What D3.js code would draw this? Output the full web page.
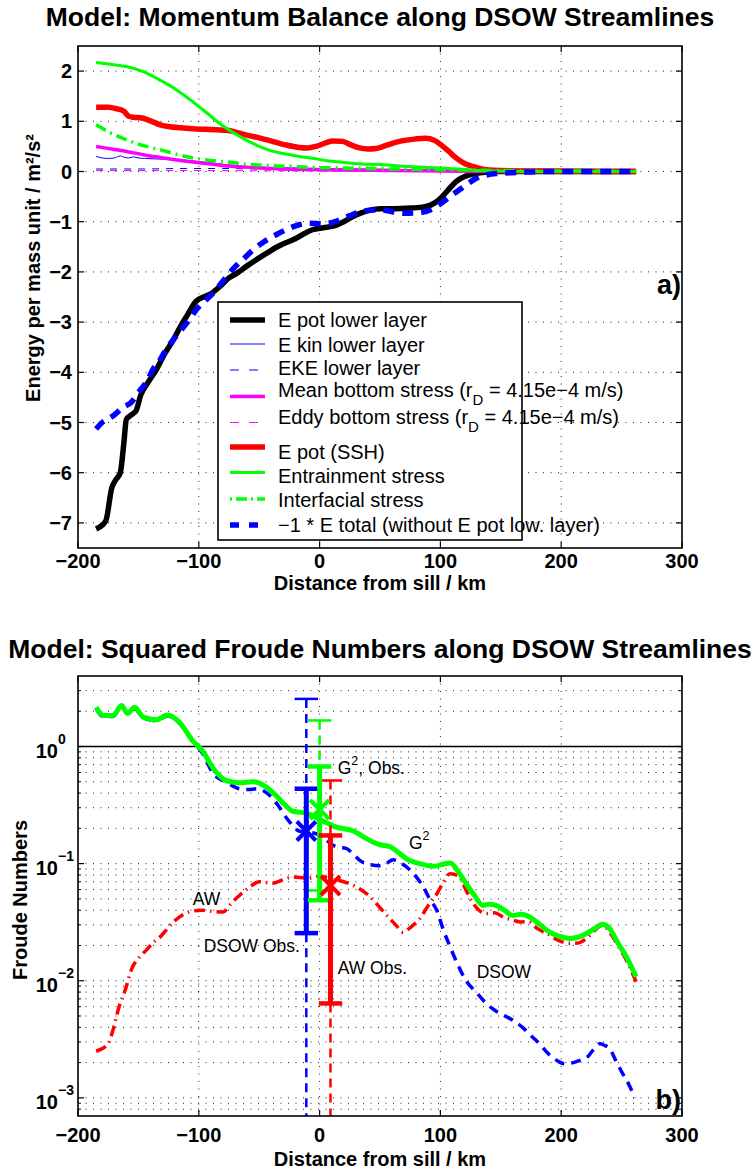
<!DOCTYPE html>
<html><head><meta charset="utf-8">
<script src="https://cdn.jsdelivr.net/npm/d3@7"></script>
<style>
body{margin:0;background:#fff;}
svg{display:block;font-family:"Liberation Sans",Arial,Helvetica,sans-serif;}
</style></head><body>
<svg id="c" width="756" height="1171"></svg>
<script>
// ---------------- DATA: panel a) ----------------
const xTicks = [-200, -100, 0, 100, 200, 300];
const yTicksA = [-7, -6, -5, -4, -3, -2, -1, 0, 1, 2];

const ePotLowerKm = [-185,-182,-177,-172,-169,-165,-162,-160,-156,-152,-148,-142,-135,-128,-121,-115,-110,-102,-96,-91,-83,-75,-68,-60,-50,-42,-35,-28,-22,-15,-6,3,11,20,28,35,42,50,60,72,85,92,99,106,113,120,127,135,145,160,200,262];
const ePotLower   = [-7.12,-7.08,-6.96,-6.3,-6.15,-6.0,-5.4,-4.94,-4.85,-4.77,-4.45,-4.2,-3.94,-3.62,-3.35,-3.08,-2.88,-2.58,-2.5,-2.45,-2.3,-2.12,-2.02,-1.88,-1.72,-1.6,-1.5,-1.42,-1.36,-1.27,-1.16,-1.12,-1.09,-1.0,-0.89,-0.82,-0.77,-0.74,-0.74,-0.73,-0.71,-0.67,-0.56,-0.38,-0.2,-0.1,-0.05,-0.02,0,0,0,0];

const eKinKm = [-185,-180,-175,-170,-165,-161,-158,-154,-150,-145,-135,-120,-105,-90,-75,-60,-40,-20,0,30,60,100,140,180,262];
const eKin   = [0.3,0.27,0.26,0.27,0.31,0.28,0.27,0.29,0.27,0.26,0.25,0.24,0.21,0.17,0.13,0.1,0.08,0.07,0.06,0.05,0.04,0.03,0.01,0,0];

const ekeKm = [-185,-150,-110,-80,-50,0,50,100,150,262];
const eke   = [0.05,0.05,0.06,0.06,0.05,0.04,0.03,0.02,0.01,0];

const meanStressKm = [-185,-170,-160,-145,-132,-118,-105,-90,-77,-63,-50,-30,-10,20,60,100,150,262];
const meanStress   = [0.5,0.44,0.4,0.33,0.28,0.23,0.19,0.15,0.11,0.09,0.07,0.05,0.04,0.03,0.02,0.01,0,0];

const eddyStressKm = [-185,-100,0,100,262];
const eddyStress   = [0.02,0.02,0.01,0.01,0];

const ePotSshKm = [-185,-175,-168,-162,-158,-154,-148,-140,-132,-124,-115,-105,-95,-85,-77,-70,-61,-50,-39,-28,-17,-10,-3,5,11,19,26,33,40,47,55,66,77,88,95,101,107,113,120,127,134,141,150,180,262];
const ePotSsh   = [1.28,1.28,1.25,1.2,1.1,1.08,1.07,1.01,0.93,0.89,0.87,0.85,0.84,0.83,0.82,0.79,0.73,0.67,0.6,0.53,0.48,0.47,0.5,0.57,0.61,0.6,0.53,0.47,0.45,0.46,0.52,0.6,0.64,0.66,0.62,0.52,0.4,0.27,0.16,0.1,0.05,0.03,0.02,0.01,0];

const entrainKm = [-185,-175,-160,-146,-132,-118,-105,-94,-83,-72,-61,-50,-40,-28,-17,-5,5,20,35,50,66,82,99,115,132,150,175,262];
const entrain   = [2.17,2.14,2.09,1.99,1.82,1.62,1.39,1.18,0.96,0.78,0.63,0.5,0.41,0.35,0.3,0.26,0.22,0.18,0.15,0.14,0.11,0.09,0.07,0.05,0.02,0.01,0,0];

const interfKm = [-185,-174,-162,-152,-140,-130,-118,-105,-90,-77,-63,-50,-36,-22,-5,15,35,60,90,120,150,200,262];
const interf   = [0.93,0.78,0.65,0.56,0.48,0.42,0.34,0.27,0.22,0.19,0.15,0.13,0.11,0.1,0.08,0.07,0.06,0.05,0.04,0.03,0.02,0.01,0.01];

const eTotalKm = [-185,-180,-176,-170,-163,-156,-149,-143,-138,-132,-127,-120,-113,-107,-102,-95,-88,-80,-72,-63,-55,-46,-36,-26,-17,-8,3,10,17,25,33,42,50,60,69,83,92,99,108,116,123,130,138,146,165,185,262];
const eTotal   = [-5.13,-5.0,-4.94,-4.85,-4.7,-4.6,-4.37,-4.18,-3.94,-3.75,-3.54,-3.32,-3.11,-2.92,-2.75,-2.58,-2.42,-2.18,-1.95,-1.74,-1.56,-1.4,-1.26,-1.14,-1.06,-1.03,-1.04,-1.02,-0.96,-0.88,-0.81,-0.77,-0.76,-0.8,-0.83,-0.82,-0.76,-0.66,-0.5,-0.36,-0.24,-0.13,-0.07,-0.04,-0.02,0,0];

const legendLabelsA = ["E pot lower layer","E kin lower layer","EKE lower layer","Mean bottom stress (r|D| = 4.15e\u22124 m/s)","Eddy bottom stress (r|D| = 4.15e\u22124 m/s)","E pot (SSH)","Entrainment stress","Interfacial stress","\u22121 * E total (without E pot low. layer)"];

// ---------------- DATA: panel b) ----------------
const yTicksB = [1e-3, 1e-2, 1e-1, 1];
const yTickExpB = ["\u22123", "\u22122", "\u22121", "0"];

const g2Km = [-185,-179,-171,-164,-159,-153,-146,-135,-126,-116,-105,-97,-88,-77,-66,-55,-44,-36,-29,-22,-11,3,14,28,36,44,50,58,65,72,83,94,101,108,115,121,128,135,140,146,153,160,167,174,181,188,198,207,214,221,228,234,240,247,254,262];
const g2   = [2.16,1.84,1.84,2.24,1.92,2.16,1.78,1.69,1.86,1.61,1.12,0.92,0.65,0.51,0.49,0.5,0.45,0.38,0.32,0.28,0.27,0.23,0.205,0.19,0.17,0.153,0.145,0.14,0.125,0.11,0.1,0.095,0.098,0.101,0.085,0.068,0.054,0.044,0.045,0.044,0.04,0.036,0.037,0.035,0.031,0.027,0.024,0.023,0.0235,0.0253,0.028,0.0304,0.028,0.021,0.016,0.0108];

const awKm = [-185,-175,-171,-166,-161,-155,-150,-144,-138,-132,-121,-108,-97,-88,-80,-73,-66,-58,-50,-39,-30,-22,-10,0,10,20,33,42,50,58,63,69,76,83,90,97,102,108,113,116,121,127,132,138,145,152,160,166,173,180,188,198,207,214,221,228,234,240,247,254,262];
const aw   = [0.0025,0.0029,0.0038,0.006,0.0083,0.013,0.0155,0.018,0.021,0.0237,0.0318,0.0387,0.04,0.039,0.0387,0.046,0.054,0.063,0.07,0.068,0.073,0.077,0.075,0.078,0.074,0.07,0.061,0.052,0.042,0.034,0.03,0.026,0.029,0.034,0.044,0.055,0.068,0.082,0.08,0.077,0.06,0.046,0.04,0.0375,0.038,0.035,0.033,0.0318,0.032,0.028,0.0253,0.022,0.0209,0.021,0.023,0.027,0.0298,0.026,0.02,0.015,0.0098];

const dsowKm = [-185,-179,-171,-164,-159,-153,-146,-135,-126,-116,-105,-97,-88,-77,-66,-59,-52,-41,-34,-28,-22,-17,-8,-3,5,14,22,28,33,42,50,55,61,68,75,80,86,91,97,102,108,114,121,130,138,145,152,160,168,175,182,189,196,203,210,216,221,227,232,236,240,245,251,256,261];
const dsow   = [2.1,1.8,1.8,2.2,1.9,2.1,1.75,1.66,1.82,1.58,1.1,0.88,0.585,0.496,0.435,0.43,0.435,0.38,0.31,0.25,0.21,0.19,0.185,0.18,0.16,0.139,0.135,0.12,0.107,0.098,0.096,0.1,0.108,0.1,0.088,0.077,0.063,0.05,0.04,0.028,0.0195,0.014,0.0101,0.0079,0.0064,0.0056,0.0051,0.0046,0.004,0.0034,0.0029,0.0024,0.0021,0.00195,0.002,0.0021,0.0022,0.0026,0.0029,0.0028,0.00265,0.0021,0.0016,0.0013,0.001];

// Observations: DSOW, G^2, AW
const obsKm        = [-11, 0, 9];
const obsValue     = [0.19, 0.29, 0.065];
const obsLow       = [0.0255, 0.0487, 0.0064];
const obsHigh      = [0.436, 0.675, 0.174];
const obsRangeLow  = [0.0001, 0.059, 0.0001];
const obsRangeHigh = [2.55, 1.67, 0.513];

const annotTexts = ["G\u00b2, Obs.", "G\u00b2", "AW", "DSOW Obs.", "AW Obs.", "DSOW"];
const annotKm    = [15, 74, -105, -96, 15, 130];
const annotVal   = [0.65, 0.15, 0.05, 0.0197, 0.0128, 0.0118];

// ---------------- DRAWING ----------------
const svg = d3.select("#c");
const zip = (a, b) => a.map((v, i) => [v, b[i]]);
const L = 78, R = 682;

function dottedGrid(g, x1, y1, x2, y2) {
  g.append("line").attr("x1", x1).attr("y1", y1).attr("x2", x2).attr("y2", y2)
    .attr("stroke", "#222").attr("stroke-width", 1).attr("stroke-dasharray", "1,6.5");
}

// ===== Panel a =====
const xA = d3.scaleLinear().domain([-200, 300]).range([L, R]);
const yA = d3.scaleLinear().domain([-7.5, 2.5]).range([548, 46]);
const gA = svg.append("g");
svg.append("defs").append("clipPath").attr("id", "clipA").append("rect")
  .attr("x", L).attr("y", 46).attr("width", R - L).attr("height", 502);

svg.append("text").attr("x", 380).attr("y", 17).attr("text-anchor", "middle")
  .attr("dominant-baseline", "central").attr("font-size", 26.5).attr("font-weight", "bold")
  .text("Model: Momentum Balance along DSOW Streamlines");

const gridA = gA.append("g");
xTicks.slice(1, -1).forEach(t => dottedGrid(gridA, xA(t), 46, xA(t), 548));
yTicksA.forEach(t => dottedGrid(gridA, L, yA(t), R, yA(t)));

const lineA = d3.line().x(d => xA(d[0])).y(d => yA(d[1])).curve(d3.curveMonotoneX);
const seriesA = [
  {km: ePotLowerKm, v: ePotLower, c: "#000000", w: 5.5, dash: null},
  {km: eKinKm, v: eKin, c: "#0000ff", w: 1, dash: null},
  {km: ekeKm, v: eke, c: "#0000ff", w: 1, dash: "7,7"},
  {km: meanStressKm, v: meanStress, c: "#ff00ff", w: 3.5, dash: null},
  {km: eddyStressKm, v: eddyStress, c: "#ff00ff", w: 1, dash: "7,7"},
  {km: ePotSshKm, v: ePotSsh, c: "#ff0000", w: 5.5, dash: null},
  {km: entrainKm, v: entrain, c: "#00ff00", w: 3, dash: null},
  {km: interfKm, v: interf, c: "#00ff00", w: 3.5, dash: "11,5,2,5"},
  {km: eTotalKm, v: eTotal, c: "#0000ff", w: 5.5, dash: "11,8"}
];
const plotA = gA.append("g").attr("clip-path", "url(#clipA)");
seriesA.forEach(s => {
  plotA.append("path").datum(zip(s.km, s.v)).attr("d", lineA).attr("fill", "none")
    .attr("stroke", s.c).attr("stroke-width", s.w).attr("stroke-dasharray", s.dash)
    .attr("stroke-linejoin", "round");
});

// axes box & ticks
function boxAndTicks(g, x, yTop, yBot, yTickPos, minorPos) {
  g.append("rect").attr("x", L).attr("y", yTop).attr("width", R - L).attr("height", yBot - yTop)
    .attr("fill", "none").attr("stroke", "#000").attr("stroke-width", 1.6);
  xTicks.forEach(t => {
    g.append("line").attr("x1", x(t)).attr("x2", x(t)).attr("y1", yBot).attr("y2", yBot - 6).attr("stroke", "#000").attr("stroke-width", 1.2);
    g.append("line").attr("x1", x(t)).attr("x2", x(t)).attr("y1", yTop).attr("y2", yTop + 6).attr("stroke", "#000").attr("stroke-width", 1.2);
  });
  yTickPos.forEach(p => {
    g.append("line").attr("x1", L).attr("x2", L + 6).attr("y1", p).attr("y2", p).attr("stroke", "#000").attr("stroke-width", 1.2);
    g.append("line").attr("x1", R).attr("x2", R - 6).attr("y1", p).attr("y2", p).attr("stroke", "#000").attr("stroke-width", 1.2);
  });
  (minorPos || []).forEach(p => {
    g.append("line").attr("x1", L).attr("x2", L + 3).attr("y1", p).attr("y2", p).attr("stroke", "#000").attr("stroke-width", 1);
    g.append("line").attr("x1", R).attr("x2", R - 3).attr("y1", p).attr("y2", p).attr("stroke", "#000").attr("stroke-width", 1);
  });
}
boxAndTicks(gA, xA, 46, 548, yTicksA.map(yA));

const fmtMinus = v => String(v).replace("-", "\u2212");
xTicks.forEach(t => gA.append("text").attr("x", xA(t)).attr("y", 561).attr("text-anchor", "middle")
  .attr("dominant-baseline", "central").attr("font-size", 20).attr("font-weight", "bold").text(fmtMinus(t)));
yTicksA.forEach(t => gA.append("text").attr("x", 72).attr("y", yA(t)).attr("text-anchor", "end")
  .attr("dominant-baseline", "central").attr("font-size", 20).attr("font-weight", "bold").text(fmtMinus(t)));
gA.append("text").attr("x", 380).attr("y", 583).attr("text-anchor", "middle").attr("dominant-baseline", "central")
  .attr("font-size", 20).attr("font-weight", "bold").text("Distance from sill / km");
gA.append("text").attr("transform", "translate(33,268) rotate(-90)").attr("text-anchor", "middle")
  .attr("dominant-baseline", "central").attr("font-size", 20).attr("font-weight", "bold")
  .text("Energy per mass unit / m\u00b2/s\u00b2");
gA.append("text").attr("x", 681).attr("y", 285).attr("text-anchor", "end").attr("dominant-baseline", "central")
  .attr("font-size", 27).attr("font-weight", "bold").text("a)");

// legend
const lg = gA.append("g");
lg.append("rect").attr("x", 218).attr("y", 302).attr("width", 304).attr("height", 238)
  .attr("fill", "#fff").attr("stroke", "#000").attr("stroke-width", 1.6);
const legLineY = [320, 344, 370, 396.5, 422.5, 447, 472.5, 499, 525];
const legTextY = [320, 344.5, 367.5, 390, 417, 452, 476, 500, 525];
seriesA.forEach((s, i) => {
  lg.append("line").attr("x1", 230).attr("x2", 265).attr("y1", legLineY[i]).attr("y2", legLineY[i])
    .attr("stroke", s.c).attr("stroke-width", s.w).attr("stroke-dasharray", s.dash ? (i === 7 ? "2,4,11,4" : "9,10") : null);
  const parts = legendLabelsA[i].split("|");
  const t = lg.append("text").attr("x", 278).attr("y", legTextY[i]).attr("dominant-baseline", "central")
    .attr("font-size", 20);
  t.append("tspan").text(parts[0]);
  if (parts.length > 1) {
    t.append("tspan").attr("dy", 9).attr("font-size", 15).text(parts[1]);
    t.append("tspan").attr("dy", -9).text(parts[2]);
  }
});

// ===== Panel b =====
const xB = d3.scaleLinear().domain([-200, 300]).range([L, R]);
const yB = d3.scaleLog().domain([7e-4, 4]).range([1116, 676]);
const gB = svg.append("g");
svg.select("defs").append("clipPath").attr("id", "clipB").append("rect")
  .attr("x", L).attr("y", 676).attr("width", R - L).attr("height", 440);

svg.append("text").attr("x", 380).attr("y", 649).attr("text-anchor", "middle")
  .attr("dominant-baseline", "central").attr("font-size", 26.5).attr("font-weight", "bold")
  .text("Model: Squared Froude Numbers along DSOW Streamlines");

const gridB = gB.append("g");
xTicks.slice(1, -1).forEach(t => dottedGrid(gridB, xB(t), 676, xB(t), 1116));
const minorVals = [];
[1e-4, 1e-3, 1e-2, 1e-1, 1].forEach(d => { for (let k = 1; k <= 9; k++) { const v = d * k; if (v > 7e-4 && v < 4) minorVals.push(v); } });
minorVals.filter(v => v !== 1).forEach(v => dottedGrid(gridB, L, yB(v), R, yB(v)));

const plotB = gB.append("g").attr("clip-path", "url(#clipB)");
plotB.append("line").attr("x1", L).attr("x2", R).attr("y1", yB(1)).attr("y2", yB(1))
  .attr("stroke", "#000").attr("stroke-width", 1.4);
const lineB = d3.line().x(d => xB(d[0])).y(d => yB(d[1])).curve(d3.curveMonotoneX);
const seriesB = [
  {km: awKm, v: aw, c: "#ff0000", w: 3.5, dash: "11,5,1.5,5"},
  {km: dsowKm, v: dsow, c: "#0000ff", w: 3.5, dash: "10,7"},
  {km: g2Km, v: g2, c: "#00ff00", w: 5, dash: null}
];
seriesB.forEach(s => {
  plotB.append("path").datum(zip(s.km, s.v)).attr("d", lineB).attr("fill", "none")
    .attr("stroke", s.c).attr("stroke-width", s.w).attr("stroke-dasharray", s.dash)
    .attr("stroke-linejoin", "round");
});

// observation error bars
const obsColors = ["#0000ff", "#00ff00", "#ff0000"];
const capHW = 11.7;
obsKm.forEach((k, i) => {
  const c = obsColors[i], px = xB(k);
  plotB.append("line").attr("x1", px).attr("x2", px).attr("y1", yB(obsRangeHigh[i])).attr("y2", yB(obsHigh[i]))
    .attr("stroke", c).attr("stroke-width", 2.5).attr("stroke-dasharray", "9,6");
  plotB.append("line").attr("x1", px).attr("x2", px).attr("y1", yB(obsLow[i])).attr("y2", yB(obsRangeLow[i]))
    .attr("stroke", c).attr("stroke-width", 2.5).attr("stroke-dasharray", "9,6");
  [obsRangeHigh[i], obsRangeLow[i]].forEach(v => plotB.append("line").attr("x1", px - capHW).attr("x2", px + capHW)
    .attr("y1", yB(v)).attr("y2", yB(v)).attr("stroke", c).attr("stroke-width", 2.5));
});
obsKm.forEach((k, i) => {
  const c = obsColors[i], px = xB(k);
  plotB.append("line").attr("x1", px).attr("x2", px).attr("y1", yB(obsHigh[i])).attr("y2", yB(obsLow[i]))
    .attr("stroke", c).attr("stroke-width", 5);
  [obsHigh[i], obsLow[i]].forEach(v => plotB.append("line").attr("x1", px - capHW).attr("x2", px + capHW)
    .attr("y1", yB(v)).attr("y2", yB(v)).attr("stroke", c).attr("stroke-width", 4.5));
  const py = yB(obsValue[i]), m = 9.5;
  const mk = plotB.append("g").attr("stroke", c).attr("stroke-width", 4);
  mk.append("line").attr("x1", px - m).attr("x2", px + m).attr("y1", py - m).attr("y2", py + m);
  mk.append("line").attr("x1", px - m).attr("x2", px + m).attr("y1", py + m).attr("y2", py - m);
  if (i === 0) {
    mk.append("line").attr("x1", px).attr("x2", px).attr("y1", py - m * 1.3).attr("y2", py + m * 1.3);
  }
});

// annotations
annotTexts.forEach((t, i) => {
  const parts = t.split("\u00b2");
  const tx = gB.append("text").attr("x", xB(annotKm[i])).attr("y", yB(annotVal[i])).attr("dominant-baseline", "central")
    .attr("font-size", 17.5);
  if (parts.length > 1) {
    tx.append("tspan").text(parts[0]);
    tx.append("tspan").attr("dy", -7).attr("font-size", 12.5).text("2");
    tx.append("tspan").attr("dy", 7).text(parts[1]);
  } else tx.text(t);
});

boxAndTicks(gB, xB, 676, 1116, yTicksB.map(yB), minorVals.filter(v => !yTicksB.includes(v)).map(yB));

xTicks.forEach(t => gB.append("text").attr("x", xB(t)).attr("y", 1135).attr("text-anchor", "middle")
  .attr("dominant-baseline", "central").attr("font-size", 20).attr("font-weight", "bold").text(fmtMinus(t)));
yTicksB.forEach((t, i) => {
  gB.append("text").attr("x", 58).attr("y", yB(t) + 4).attr("text-anchor", "end").attr("dominant-baseline", "central")
    .attr("font-size", 20).attr("font-weight", "bold").text("10");
  gB.append("text").attr("x", 58).attr("y", yB(t) - 8).attr("dominant-baseline", "central")
    .attr("font-size", 14).attr("font-weight", "bold").text(yTickExpB[i]);
});
gB.append("text").attr("x", 380).attr("y", 1159).attr("text-anchor", "middle").attr("dominant-baseline", "central")
  .attr("font-size", 20).attr("font-weight", "bold").text("Distance from sill / km");
gB.append("text").attr("transform", "translate(20,900) rotate(-90)").attr("text-anchor", "middle")
  .attr("dominant-baseline", "central").attr("font-size", 20).attr("font-weight", "bold").text("Froude Numbers");
gB.append("text").attr("x", 681).attr("y", 1100).attr("text-anchor", "end").attr("dominant-baseline", "central")
  .attr("font-size", 27).attr("font-weight", "bold").text("b)");
</script>
</body></html>
